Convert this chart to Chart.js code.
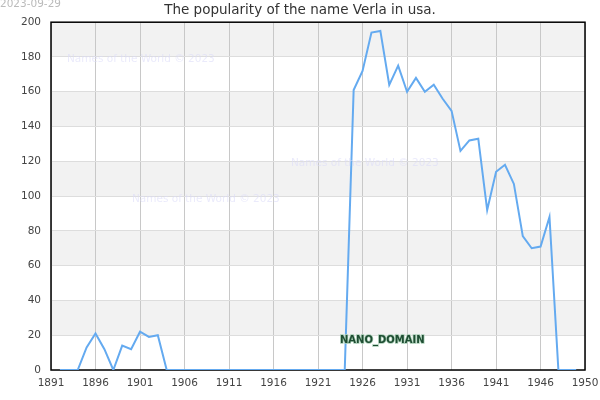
<!DOCTYPE html>
<html>
<head>
<meta charset="utf-8">
<script src="https://cdn.jsdelivr.net/npm/chart.js@4"></script>
<style>
  html, body { margin: 0; padding: 0; background: #fff; }
  #wrap { width: 600px; height: 400px; position: relative; }
</style>
</head>
<body>
<div id="wrap"><canvas id="myChart" width="600" height="400"></canvas></div>
<script>
// data
const years = [
  1892, 1893, 1894, 1895, 1896, 1897, 1898, 1899, 1900, 1901,
  1902, 1903, 1904, 1905, 1906, 1907, 1908, 1909, 1910, 1911,
  1912, 1913, 1914, 1915, 1916, 1917, 1918, 1919, 1920, 1921,
  1922, 1923, 1924, 1925, 1926, 1927, 1928, 1929, 1930, 1931,
  1932, 1933, 1934, 1935, 1936, 1937, 1938, 1939, 1940, 1941,
  1942, 1943, 1944, 1945, 1946, 1947, 1948, 1949, 1950
];
const counts = [
  0, 0, 0, 13, 21, 12, 0, 14, 12, 22,
  19, 20, 0, 0, 0, 0, 0, 0, 0, 0,
  0, 0, 0, 0, 0, 0, 0, 0, 0, 0,
  0, 0, 0, 161, 172, 194, 195, 164, 175, 160,
  168, 160, 164, 156, 149, 126, 132, 133, 92, 114,
  118, 107, 77, 70, 71, 88, 0, 0, 0
];
const xTicks = [1891, 1896, 1901, 1906, 1911, 1916, 1921, 1926, 1931, 1936, 1941, 1946, 1950.99];
const yBands = [[20, 40], [60, 80], [100, 120], [140, 160], [180, 200]];

const titleText = 'The popularity of the name Verla in usa.';
const stampText = '2023-09-29';
const markText = 'Names of the World © 2023';

const FONT = '"DejaVu Sans", sans-serif';

const decorPlugin = {
  id: 'decor',
  beforeDraw(chart) {
    const { ctx, chartArea: a, scales: { y } } = chart;
    ctx.save();
    ctx.fillStyle = '#f2f2f2';
    yBands.forEach(([lo, hi]) => {
      const top = y.getPixelForValue(hi);
      const bot = y.getPixelForValue(lo);
      ctx.fillRect(a.left, top, a.right - a.left, bot - top);
    });
    ctx.restore();
  },
  beforeDatasetsDraw(chart) {
    const { ctx, chartArea: a } = chart;
    ctx.save();
    // frame, under the line
    ctx.strokeStyle = '#000';
    ctx.lineWidth = 1.5;
    ctx.strokeRect(a.left, a.top, a.right - a.left, a.bottom - a.top);
    ctx.restore();
  },
  afterDatasetsDraw(chart) {
    const { ctx } = chart;
    ctx.save();
    // watermarks
    ctx.font = '10.5px ' + FONT;
    ctx.fillStyle = 'rgba(220,220,248,0.6)';
    ctx.textAlign = 'left';
    ctx.textBaseline = 'middle';
    ctx.fillText(markText, 67, 59);
    ctx.fillText(markText, 132, 199);
    ctx.fillText(markText, 291, 163);

    ctx.font = 'bold 10px ' + FONT;
    ctx.lineWidth = 1.5;
    ctx.strokeStyle = '#a9cfb6';
    ctx.strokeText('NANO_DOMAIN', 340, 340);
    ctx.fillStyle = '#1f4d33';
    ctx.fillText('NANO_DOMAIN', 340, 340);

    // date stamp
    ctx.font = '10.5px ' + FONT;
    ctx.fillStyle = '#bbbbbb';
    ctx.fillText(stampText, 0, 4);
    ctx.restore();
  }
};

new Chart(document.getElementById('myChart').getContext('2d'), {
  type: 'line',
  data: {
    datasets: [{
      data: years.map((yr, i) => ({ x: yr, y: counts[i] })),
      borderColor: '#64aaf0',
      borderWidth: 2,
      pointRadius: 0,
      tension: 0,
      fill: false
    }]
  },
  options: {
    responsive: false,
    animation: false,
    layout: { padding: 0 },
    plugins: {
      legend: { display: false },
      tooltip: { enabled: false },
      title: {
        display: true,
        text: titleText,
        color: '#333',
        font: { family: FONT, size: 13.5, weight: 'normal' },
        padding: { top: 2, bottom: 4 }
      }
    },
    scales: {
      x: {
        type: 'linear',
        min: 1891,
        max: 1950.99,
        afterBuildTicks(scale) {
          scale.ticks = xTicks.map(v => ({ value: v }));
        },
        afterFit(scale) {
          scale.height = 30;
          scale.paddingLeft = 0;
          scale.paddingRight = 0;
        },
        grid: { color: '#c8c8c8', lineWidth: 1, drawTicks: false },
        border: { display: false },
        ticks: {
          color: '#444',
          font: { family: FONT, size: 10.5 },
          padding: 7,
          maxRotation: 0,
          autoSkip: false,
          callback: v => String(Math.floor(v))
        }
      },
      y: {
        min: 0,
        max: 200,
        afterFit(scale) { scale.width = 51; },
        grid: { color: '#dddddd', lineWidth: 1, drawTicks: false },
        border: { display: false },
        ticks: {
          stepSize: 20,
          color: '#444',
          font: { family: FONT, size: 10.5 },
          padding: 10
        }
      },
      // empty right-hand strip so the plot stops 15px from the edge
      yRight: {
        position: 'right',
        display: true,
        afterFit(scale) { scale.width = 15; },
        grid: { drawOnChartArea: false, drawTicks: false },
        border: { display: false },
        ticks: { display: false }
      }
    }
  },
  plugins: [decorPlugin]
});
</script>
</body>
</html>
